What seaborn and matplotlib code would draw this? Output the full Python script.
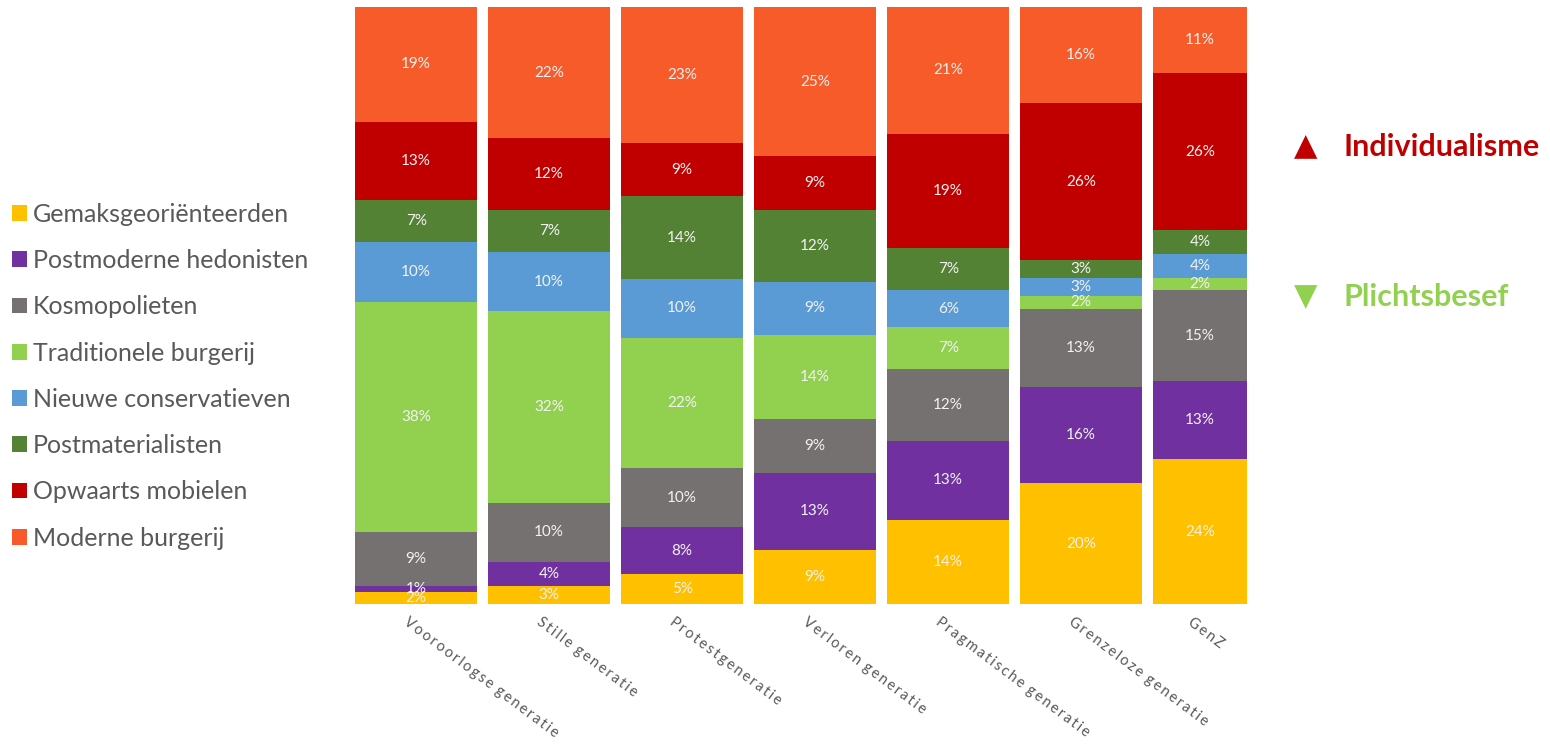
import numpy as np
import pandas as pd
import matplotlib
matplotlib.use('Agg')
import matplotlib.pyplot as plt
from matplotlib.patches import Patch
import seaborn as sns

sns.set_theme(style="white")
plt.rcParams['font.family'] = ['Lato', 'DejaVu Sans']

# generaties (x-as)
generaties = ['Vooroorlogse generatie', 'Stille generatie', 'Protestgeneratie',
              'Verloren generatie', 'Pragmatische generatie', 'Grenzeloze generatie', 'GenZ']

# segmenten van onder naar boven
segmenten = ['Gemaksgeoriënteerden', 'Postmoderne hedonisten', 'Kosmopolieten',
             'Traditionele burgerij', 'Nieuwe conservatieven', 'Postmaterialisten',
             'Opwaarts mobielen', 'Moderne burgerij']

gemak = [2, 3, 5, 9, 14, 20, 24]
hedonisten = [1, 4, 8, 13, 13, 16, 13]
kosmo = [9, 10, 10, 9, 12, 13, 15]
traditioneel = [38, 32, 22, 14, 7, 2, 2]
nieuw_cons = [10, 10, 10, 9, 6, 3, 4]
postmat = [7, 7, 14, 12, 7, 3, 4]
opwaarts = [13, 12, 9, 9, 19, 26, 26]
modern = [19, 22, 23, 25, 21, 16, 11]

kleuren = ['#FFC000', '#7030A0', '#767171', '#92D050',
           '#5B9BD5', '#548235', '#C00000', '#F75B2A']

df = pd.DataFrame([gemak, hedonisten, kosmo, traditioneel, nieuw_cons, postmat, opwaarts, modern],
                  index=segmenten, columns=generaties).T
# bars lopen tot 100%
df_norm = df.div(df.sum(axis=1), axis=0) * 100

fig = plt.figure(figsize=(15.5, 7.48), dpi=100)
ax = fig.add_axes([355 / 1550, 144 / 748, 892 / 1550, 597 / 748])

x = np.arange(len(generaties))
breedte = np.array([0.92] * 6 + [0.71])
bodem = np.zeros(len(generaties))
for seg, kleur in zip(segmenten, kleuren):
    h = df_norm[seg].values
    ax.bar(x, h, width=breedte, bottom=bodem, color=kleur, align='edge', linewidth=0)
    for xi, b, hi, w, v in zip(x, bodem, h, breedte, df[seg].values):
        ax.text(xi + w / 2, b + hi / 2, f'{v}%', ha='center', va='center',
                color='#F2F2F2', fontsize=11)
    bodem += h

ax.set_xlim(0, 892 / 133)
ax.set_ylim(0, 100)
ax.set_yticks([])
ax.set_xticks([])
sns.despine(ax=ax, left=True, bottom=True)

# x-labels met extra letterafstand
for xi, w, naam in zip(x, breedte, generaties):
    spaced = ' \u2009'.join('\u2009'.join(list(woord)) for woord in naam.split(' '))
    ax.text(xi + w / 2 - 0.05, -1.8, spaced, rotation=-37, rotation_mode='anchor',
            ha='left', va='top', fontsize=10.5, color='#595959')

handles = [Patch(facecolor=k, edgecolor='none') for k in kleuren]
fig.legend(handles, segmenten, loc='center left', bbox_to_anchor=(-0.007, 0.497),
           frameon=False, fontsize=18, handlelength=0.6, handleheight=0.6,
           handletextpad=0.25, labelspacing=0.93, labelcolor='#595959')

fig.text(1306 / 1550, 1 - 147 / 748, '▲', color='#C00000', fontsize=22,
         ha='center', va='center', family=['DejaVu Sans'])
fig.text(1343 / 1550, 1 - 147 / 748, 'Individualisme', color='#C00000', fontsize=22,
         fontweight='bold', ha='left', va='center')
fig.text(1306 / 1550, 1 - 297 / 748, '▼', color='#92D050', fontsize=22,
         ha='center', va='center', family=['DejaVu Sans'])
fig.text(1343 / 1550, 1 - 297 / 748, 'Plichtsbesef', color='#92D050', fontsize=22,
         fontweight='bold', ha='left', va='center')

plt.savefig('out.png', dpi=100)
